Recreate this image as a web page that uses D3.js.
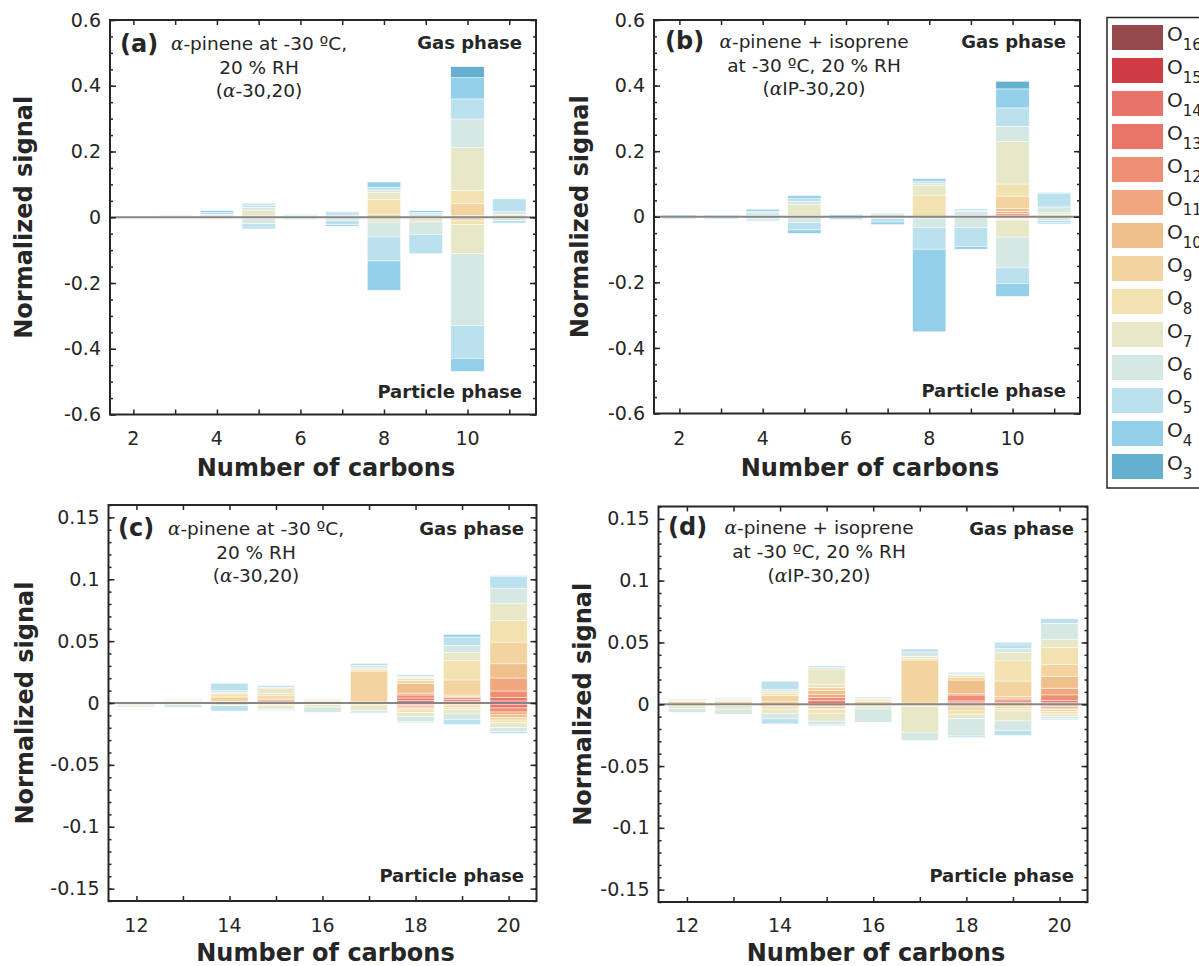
<!DOCTYPE html>
<html><head><meta charset="utf-8">
<script src="https://cdn.jsdelivr.net/npm/d3@7"></script>
<style>
body{margin:0;background:#fff;}
svg text{font-family:"DejaVu Sans",Verdana,sans-serif;fill:#262626;}
</style></head>
<body>
<svg id="chart" width="1199" height="966"></svg>
<script>
// ---------- data ----------
const oKeys = ['O16','O15','O14','O13','O12','O11','O10','O9','O8','O7','O6','O5','O4','O3'];
const oColors = ['#96494b','#cf3b44','#e8736a','#e87568','#ee8e72','#f0a77e','#f0c08c','#f3d39f','#f2e2b2','#e8e8c8','#d5e8e3','#bbe0ee','#95d0eb','#65afcf'];

const carbonsAB = [2,3,4,5,6,7,8,9,10,11];
const carbonsCD = [12,13,14,15,16,17,18,19,20];
const xTicksAB = [2,4,6,8,10];
const xTicksCD = [12,14,16,18,20];
const yTicksAB = [-0.6,-0.4,-0.2,0,0.2,0.4,0.6];
const yTicksCD = [-0.15,-0.1,-0.05,0,0.05,0.1,0.15];

const gasA = [
 {c:2, O5:.001, O4:.001},
 {c:3, O6:.001, O5:.002, O4:.002},
 {c:4, O7:.004, O6:.005, O5:.005, O4:.006},
 {c:5, O8:.004, O7:.018, O6:.008, O5:.006, O4:.004, O3:.002},
 {c:6, O6:.003, O5:.003, O4:.002},
 {c:7, O7:.002, O6:.005, O5:.007, O4:.003},
 {c:8, O9:.008, O8:.047, O7:.021, O6:.007, O5:.008, O4:.016},
 {c:9, O7:.002, O6:.008, O5:.005, O4:.005},
 {c:10, O11:.002, O10:.004, O9:.035, O8:.040, O7:.132, O6:.086, O5:.061, O4:.065, O3:.033},
 {c:11, O9:.004, O8:.004, O6:.009, O5:.039}
];
const partA = [
 {c:2, O6:.001, O5:.001},
 {c:3, O5:.002},
 {c:4, O6:.002, O5:.001},
 {c:5, O7:.004, O6:.016, O5:.010, O4:.005},
 {c:6, O6:.003, O5:.003},
 {c:7, O7:.003, O6:.007, O5:.012, O4:.005},
 {c:8, O8:.005, O7:.010, O6:.045, O5:.073, O4:.089},
 {c:9, O8:.004, O7:.010, O6:.038, O5:.059},
 {c:10, O10:.003, O9:.008, O8:.011, O7:.089, O6:.218, O5:.100, O4:.040},
 {c:11, O7:.004, O6:.006, O5:.008}
];
const gasB = [
 {c:2, O5:.002, O4:.003},
 {c:3, O4:.004},
 {c:4, O7:.003, O6:.009, O5:.005, O4:.006},
 {c:5, O8:.004, O7:.033, O6:.010, O5:.008, O4:.009, O3:.002},
 {c:6, O6:.002, O5:.004, O4:.002},
 {c:7, O6:.006, O5:.004, O4:.001},
 {c:8, O8:.066, O7:.030, O6:.007, O5:.006, O4:.007},
 {c:9, O7:.004, O6:.012, O5:.003, O4:.004},
 {c:10, O14:.002, O13:.003, O12:.005, O11:.006, O10:.009, O9:.038, O8:.037, O7:.129, O6:.047, O5:.056, O4:.058, O3:.023},
 {c:11, O9:.004, O8:.004, O7:.004, O6:.018, O5:.042, O4:.002}
];
const partB = [
 {c:2, O5:.003, O4:.003},
 {c:3, O5:.003, O4:.003},
 {c:4, O6:.005, O5:.003, O4:.004},
 {c:5, O7:.002, O6:.016, O5:.022, O4:.011},
 {c:6, O6:.003, O5:.006},
 {c:7, O6:.006, O5:.010, O4:.008},
 {c:8, O7:.004, O6:.029, O5:.066, O4:.252},
 {c:9, O7:.003, O6:.030, O5:.058, O4:.008},
 {c:10, O11:.002, O10:.003, O9:.003, O8:.002, O7:.052, O6:.094, O5:.047, O4:.040},
 {c:11, O7:.003, O6:.008, O5:.008, O4:.003}
];
const gasC = [
 {c:12, O9:.001, O8:.0005, O6:.0003, O5:.0004},
 {c:13, O9:.0012, O8:.0008, O7:.0008, O6:.0005, O5:.0005},
 {c:14, O11:.0004, O10:.001, O9:.0035, O8:.0025, O7:.001, O6:.0015, O5:.006, O4:.0003},
 {c:15, O13:.0006, O12:.001, O11:.0012, O10:.0012, O9:.0018, O8:.0018, O7:.0045, O6:.0006, O5:.0012},
 {c:16, O10:.0005, O9:.001, O8:.0008, O7:.0008, O6:.0004},
 {c:17, O10:.0008, O9:.025, O8:.0015, O7:.0012, O6:.0018, O5:.0017},
 {c:18, O15:.0005, O14:.0015, O13:.002, O12:.0025, O11:.0015, O10:.0078, O9:.0025, O8:.0015, O7:.0008, O6:.001, O5:.0012, O4:.0003},
 {c:19, O15:.0005, O14:.001, O13:.0012, O12:.0015, O11:.0012, O10:.001, O9:.0122, O8:.0156, O7:.0068, O6:.0055, O5:.0068, O4:.0021},
 {c:20, O15:.0005, O14:.0012, O13:.0026, O12:.0054, O11:.0105, O10:.0115, O9:.0175, O8:.0175, O7:.0135, O6:.0126, O5:.0097, O4:.0005}
];
const partC = [
 {c:12, O8:.0008, O7:.001, O6:.0014},
 {c:13, O7:.001, O6:.0025},
 {c:14, O8:.0005, O7:.0012, O6:.0005, O5:.0043},
 {c:15, O11:.0003, O10:.0004, O9:.0008, O8:.0008, O7:.0025, O6:.0006, O5:.0008},
 {c:16, O9:.0005, O8:.0008, O7:.002, O6:.0042},
 {c:17, O9:.0008, O8:.0008, O7:.0045, O6:.002},
 {c:18, O14:.0005, O13:.0008, O12:.001, O11:.001, O10:.0012, O9:.0012, O8:.002, O7:.0032, O6:.004, O5:.001},
 {c:19, O12:.0005, O11:.0008, O10:.001, O9:.0012, O8:.0018, O7:.0035, O6:.0045, O5:.004, O4:.0002},
 {c:20, O14:.001, O13:.003, O12:.0033, O11:.0018, O10:.0027, O9:.002, O8:.002, O7:.004, O6:.0035, O5:.0015}
];
const gasD = [
 {c:12, O10:.0008, O9:.0015, O8:.001, O6:.0005, O5:.0005},
 {c:13, O10:.0005, O9:.0015, O8:.001, O7:.0012, O6:.0005, O5:.0007},
 {c:14, O11:.0008, O10:.0012, O9:.005, O8:.002, O7:.0012, O6:.0019, O5:.0062, O4:.0005},
 {c:15, O14:.0008, O13:.002, O12:.0026, O11:.0027, O10:.003, O9:.0024, O8:.0027, O7:.0124, O6:.001, O5:.0013},
 {c:16, O10:.0008, O9:.0015, O8:.0012, O7:.0012, O6:.0012},
 {c:17, O10:.001, O9:.0348, O8:.0015, O7:.0013, O6:.0037, O5:.0024},
 {c:18, O15:.0005, O14:.0012, O13:.001, O12:.0048, O11:.001, O10:.0111, O9:.002, O8:.0015, O7:.001, O6:.0005, O5:.0012},
 {c:19, O14:.0005, O13:.001, O12:.002, O11:.0015, O10:.0012, O9:.0126, O8:.0164, O7:.0067, O6:.0032, O5:.003, O4:.0015, O3:.0004},
 {c:20, O15:.0004, O14:.0008, O13:.0018, O12:.0046, O11:.0054, O10:.0094, O9:.01, O8:.0135, O7:.0067, O6:.0129, O5:.0039}
];
const partD = [
 {c:12, O9:.0005, O8:.001, O7:.002, O6:.003},
 {c:13, O8:.001, O7:.003, O6:.0041},
 {c:14, O10:.0005, O9:.001, O8:.0025, O7:.0033, O6:.0045, O5:.0041},
 {c:15, O12:.0008, O11:.001, O10:.0014, O9:.001, O8:.003, O7:.0065, O6:.003, O5:.0008},
 {c:16, O9:.0008, O8:.001, O7:.002, O6:.0107},
 {c:17, O9:.0008, O8:.0012, O7:.0206, O6:.0067},
 {c:18, O12:.0005, O11:.0008, O10:.001, O9:.0025, O8:.0032, O7:.0035, O6:.0142, O5:.0012},
 {c:19, O11:.0008, O10:.0012, O9:.0016, O8:.0018, O7:.0081, O6:.0078, O5:.004},
 {c:20, O13:.0008, O12:.0012, O11:.0012, O10:.0012, O9:.0015, O8:.002, O7:.002, O6:.0015, O5:.0012}
];

// ---------- layout ----------
const panels = [
 {lab:'(a)', gas:gasA, part:partA, xd:[1.44,11.64], yd:[-0.6,0.6], l:110, r:536, t:20, b:414.5,
  xt:xTicksAB, xall:carbonsAB, yt:yTicksAB, yminor:0.05, title:['α-pinene at -30 ºC,','20 % RH','(α-30,20)'],
  tcx:259, tb:[50,73.5,96.5], labx:120, laby:52, gasb:49, partb:398, gasr:522, ytx:24, xtb:445, xttb:476},
 {lab:'(b)', gas:gasB, part:partB, xd:[1.39,11.62], yd:[-0.6,0.6], l:654, r:1080, t:20, b:413.5,
  xt:xTicksAB, xall:carbonsAB, yt:yTicksAB, yminor:0.05, title:['α-pinene + isoprene','at -30 ºC, 20 % RH','(αIP-30,20)'],
  tcx:814, tb:[48,71.5,95], labx:665, laby:49, gasb:48, partb:397, gasr:1066, ytx:580, xtb:445, xttb:476},
 {lab:'(c)', gas:gasC, part:partC, xd:[11.4,20.6], yd:[-0.16,0.16], l:108.5, r:536.5, t:505, b:901,
  xt:xTicksCD, xall:carbonsCD, yt:yTicksCD, yminor:0.01, title:['α-pinene at -30 ºC,','20 % RH','(α-30,20)'],
  tcx:256, tb:[535,558.5,582], labx:118, laby:536, gasb:535, partb:882, gasr:524, ytx:25, xtb:932, xttb:961},
 {lab:'(d)', gas:gasD, part:partD, xd:[11.39,20.6], yd:[-0.16,0.16], l:658.5, r:1087.5, t:506.5, b:902,
  xt:xTicksCD, xall:carbonsCD, yt:yTicksCD, yminor:0.01, title:['α-pinene + isoprene','at -30 ºC, 20 % RH','(αIP-30,20)'],
  tcx:819, tb:[534,558,582], labx:668, laby:535, gasb:535, partb:882, gasr:1074, ytx:583, xtb:932, xttb:961}
];

const svg = d3.select('#chart');
const color = d3.scaleOrdinal().domain(oKeys).range(oColors);
const axisCol = '#262626';
const fmt = d => d === 0 ? '0' : String(d);

function addTitleLine(sel, str){
  const parts = str.split(/(α)/);
  parts.forEach(p => {
    if (!p) return;
    const ts = sel.append('tspan').text(p);
    if (p === 'α') ts.style('font-family','"DejaVu Serif","Liberation Serif",serif').style('font-style','italic');
  });
}

panels.forEach(P => {
  const x = d3.scaleLinear().domain(P.xd).range([P.l, P.r]);
  const y = d3.scaleLinear().domain(P.yd).range([P.b, P.t]);
  const g = svg.append('g');
  const bw = x(0.8) - x(0);

  const stack = d3.stack().keys(oKeys).value((d,k) => d[k] || 0);
  const gs = stack(P.gas);
  const ps = stack(P.part);

  const drawStack = (series, sign) => {
    series.forEach(s => {
      g.selectAll(null).data(s.filter(d => d[1] - d[0] > 0)).enter().append('rect')
        .attr('x', d => x(d.data.c) - bw/2)
        .attr('width', bw)
        .attr('y', d => sign > 0 ? y(d[1]) : y(-d[0]))
        .attr('height', d => Math.abs(y(d[0]) - y(d[1])))
        .attr('fill', color(s.key))
        .attr('stroke', '#ffffff')
        .attr('stroke-opacity', 0.8)
        .attr('stroke-width', 0.6);
    });
  };
  drawStack(gs, 1);
  drawStack(ps, -1);

  g.append('line').attr('x1', P.l).attr('x2', P.r).attr('y1', y(0)).attr('y2', y(0))
    .attr('stroke', '#878787').attr('stroke-width', 2);

  const yMinor = d3.range(Math.round(P.yd[0]/P.yminor), Math.round(P.yd[1]/P.yminor)+1).map(i => +(i*P.yminor).toFixed(4));
  const styleAxis = a => { a.select('.domain').remove(); a.selectAll('line').attr('stroke', axisCol).attr('stroke-width', 1.5); a.selectAll('text').attr('fill', axisCol).style('font-size','19px').style('font-family','"DejaVu Sans",sans-serif'); };

  g.append('g').attr('transform', `translate(${P.l},0)`).call(d3.axisLeft(y).tickValues(yMinor).tickSize(-3).tickFormat('')).call(styleAxis);
  g.append('g').attr('transform', `translate(${P.r},0)`).call(d3.axisRight(y).tickValues(yMinor).tickSize(-3).tickFormat('')).call(styleAxis);
  g.append('g').attr('transform', `translate(${P.l},0)`).call(d3.axisLeft(y).tickValues(P.yt).tickSize(-6).tickPadding(9).tickFormat(fmt)).call(styleAxis);
  g.append('g').attr('transform', `translate(${P.r},0)`).call(d3.axisRight(y).tickValues(P.yt).tickSize(-6).tickFormat('')).call(styleAxis);
  g.append('g').attr('transform', `translate(0,${P.b})`).call(d3.axisBottom(x).tickValues(P.xall).tickSize(-5).tickFormat('')).call(styleAxis);
  g.append('g').attr('transform', `translate(0,${P.t})`).call(d3.axisTop(x).tickValues(P.xall).tickSize(-5).tickFormat('')).call(styleAxis);
  g.selectAll(null).data(P.xt).enter().append('text')
    .attr('x', d => x(d)).attr('y', P.xtb).attr('text-anchor','middle')
    .style('font-size','19px').text(d => d);

  g.append('rect').attr('x', P.l).attr('y', P.t).attr('width', P.r - P.l).attr('height', P.b - P.t)
    .attr('fill','none').attr('stroke', axisCol).attr('stroke-width', 2);

  g.append('text').attr('x', (P.l + P.r)/2 + 3).attr('y', P.xttb).attr('text-anchor','middle')
    .style('font-size','24px').style('font-weight','bold').text('Number of carbons');
  g.append('text').attr('transform', `translate(${P.ytx},${(P.t + P.b)/2}) rotate(-90)`)
    .attr('text-anchor','middle').attr('dy','0.35em')
    .style('font-size','24px').style('font-weight','bold').text('Normalized signal');

  g.append('text').attr('x', P.labx).attr('y', P.laby).style('font-size','24px').style('font-weight','bold').text(P.lab);
  P.title.forEach((line, i) => {
    const t = g.append('text').attr('x', P.tcx).attr('y', P.tb[i]).attr('text-anchor','middle').style('font-size','18.5px');
    addTitleLine(t, line);
  });
  g.append('text').attr('x', P.gasr).attr('y', P.gasb).attr('text-anchor','end')
    .style('font-size','18px').style('font-weight','bold').text('Gas phase');
  g.append('text').attr('x', P.gasr).attr('y', P.partb).attr('text-anchor','end')
    .style('font-size','18px').style('font-weight','bold').text('Particle phase');
});

// ---------- legend ----------
const lg = svg.append('g');
lg.append('rect').attr('x', 1107).attr('y', 17.5).attr('width', 120).attr('height', 470.5)
  .attr('fill','#fff').attr('stroke', axisCol).attr('stroke-width', 1.5);
const ly = d3.scaleBand().domain(oKeys).range([21, 21 + 33*oKeys.length]);
oKeys.forEach(k => {
  lg.append('rect').attr('x', 1112).attr('y', ly(k) + 4).attr('width', 51).attr('height', 25).attr('fill', color(k));
  const t = lg.append('text').attr('x', 1167).attr('y', ly(k) + 19.5).style('font-size','20px');
  t.append('tspan').text('O');
  t.append('tspan').attr('dy', 9).style('font-size','15px').text(k.slice(1));
});
</script>
</body></html>
